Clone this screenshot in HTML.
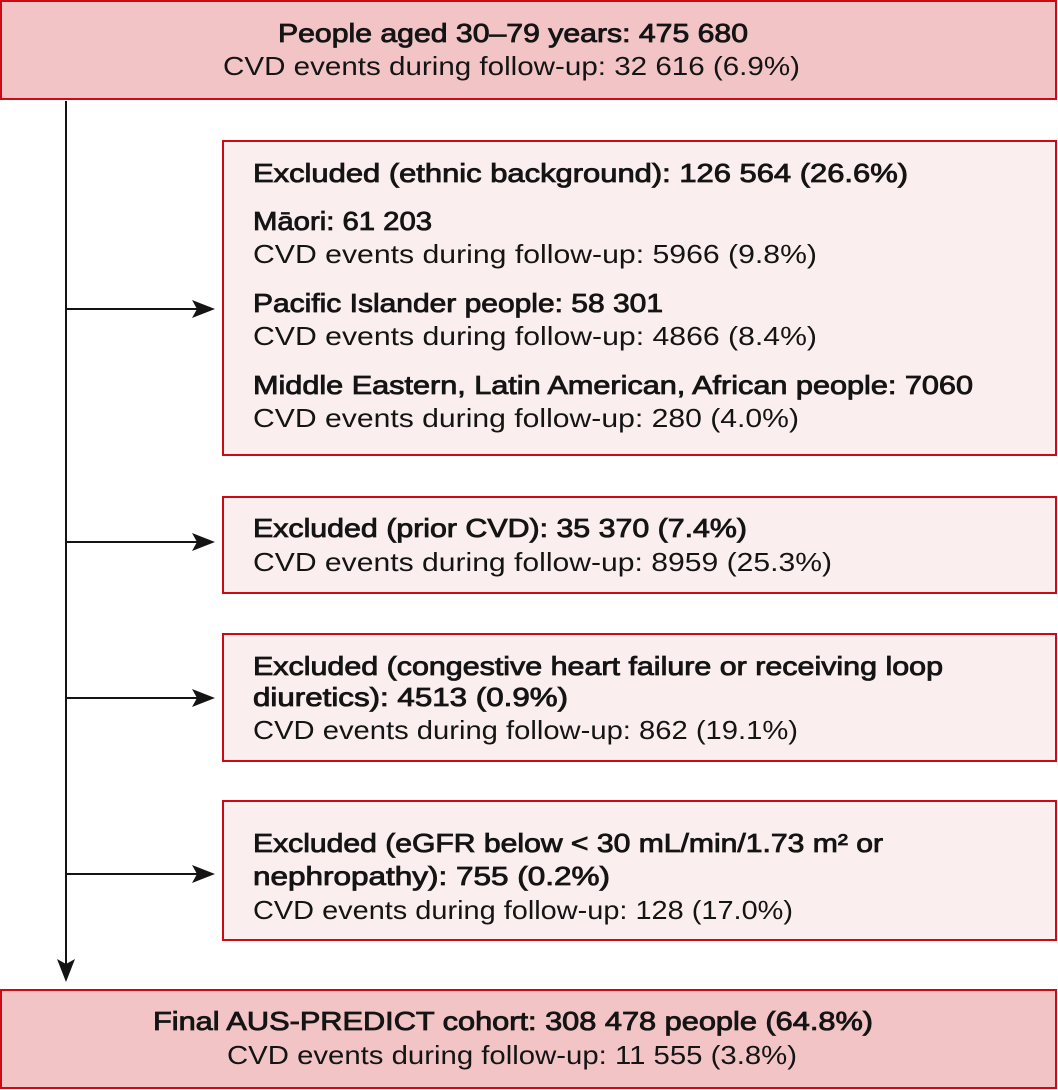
<!DOCTYPE html>
<html>
<head>
<meta charset="utf-8">
<style>
  html, body { margin:0; padding:0; background:#ffffff; }
  body { width:1058px; height:1090px; overflow:hidden; }
  svg { display:block; }
  text { font-family: "Liberation Sans", "DejaVu Sans", sans-serif; fill:#141414; font-size:26px; }
  .b { font-weight:normal; stroke:#141414; stroke-width:0.85px; }
</style>
</head>
<body>
<svg width="1058" height="1090" viewBox="0 0 1058 1090" xmlns="http://www.w3.org/2000/svg">
  <!-- Boxes -->
  <rect x="1" y="1" width="1055" height="98" fill="#f2c4c6" stroke="#cc0a14" stroke-width="2"/>
  <rect x="223" y="141" width="833" height="314" fill="#fbeeee" stroke="#cc0a14" stroke-width="2"/>
  <rect x="223" y="497" width="833" height="96" fill="#fbeeee" stroke="#cc0a14" stroke-width="2"/>
  <rect x="223" y="634" width="833" height="127" fill="#fbeeee" stroke="#cc0a14" stroke-width="2"/>
  <rect x="223" y="801" width="833" height="139" fill="#fbeeee" stroke="#cc0a14" stroke-width="2"/>
  <rect x="1" y="990" width="1055" height="98" fill="#f2c4c6" stroke="#cc0a14" stroke-width="2"/>

  <!-- Connectors -->
  <g stroke="#141414" stroke-width="2" fill="none">
    <line x1="66" y1="101" x2="66" y2="964"/>
    <line x1="66" y1="309" x2="198" y2="309"/>
    <line x1="66" y1="542" x2="198" y2="542"/>
    <line x1="66" y1="698" x2="198" y2="698"/>
    <line x1="66" y1="874" x2="198" y2="874"/>
  </g>
  <g fill="#141414">
    <path d="M66,982 L57,959 L66,964 L75,959 Z"/>
    <path d="M215,309 L192,300 L197,309 L192,318 Z"/>
    <path d="M215,542 L192,533 L197,542 L192,551 Z"/>
    <path d="M215,698 L192,689 L197,698 L192,707 Z"/>
    <path d="M215,874 L192,865 L197,874 L192,883 Z"/>
  </g>

  <!-- Top box -->
  <text class="b" x="278" y="42" textLength="470" lengthAdjust="spacingAndGlyphs">People aged 30–79 years: 475 680</text>
  <text x="223" y="75" textLength="577" lengthAdjust="spacingAndGlyphs">CVD events during follow-up: 32 616 (6.9%)</text>

  <!-- Ethnic box -->
  <text class="b" x="253" y="182" textLength="655" lengthAdjust="spacingAndGlyphs">Excluded (ethnic background): 126 564 (26.6%)</text>
  <text class="b" x="253" y="230" textLength="179" lengthAdjust="spacingAndGlyphs">Māori: 61 203</text>
  <text x="253" y="263" textLength="564" lengthAdjust="spacingAndGlyphs">CVD events during follow-up: 5966 (9.8%)</text>
  <text class="b" x="253" y="312" textLength="410" lengthAdjust="spacingAndGlyphs">Pacific Islander people: 58 301</text>
  <text x="253" y="345" textLength="564" lengthAdjust="spacingAndGlyphs">CVD events during follow-up: 4866 (8.4%)</text>
  <text class="b" x="253" y="394" textLength="720" lengthAdjust="spacingAndGlyphs">Middle Eastern, Latin American, African people: 7060</text>
  <text x="253" y="427" textLength="546" lengthAdjust="spacingAndGlyphs">CVD events during follow-up: 280 (4.0%)</text>

  <!-- Prior CVD box -->
  <text class="b" x="253" y="537" textLength="494" lengthAdjust="spacingAndGlyphs">Excluded (prior CVD): 35 370 (7.4%)</text>
  <text x="253" y="571" textLength="579" lengthAdjust="spacingAndGlyphs">CVD events during follow-up: 8959 (25.3%)</text>

  <!-- CHF box -->
  <text class="b" x="253" y="675" textLength="690" lengthAdjust="spacingAndGlyphs">Excluded (congestive heart failure or receiving loop</text>
  <text class="b" x="253" y="706" textLength="315" lengthAdjust="spacingAndGlyphs">diuretics): 4513 (0.9%)</text>
  <text x="253" y="739" textLength="545" lengthAdjust="spacingAndGlyphs">CVD events during follow-up: 862 (19.1%)</text>

  <!-- eGFR box -->
  <text class="b" x="253" y="852" textLength="630" lengthAdjust="spacingAndGlyphs">Excluded (eGFR below &lt; 30 mL/min/1.73 m² or</text>
  <text class="b" x="253" y="885" textLength="357" lengthAdjust="spacingAndGlyphs">nephropathy): 755 (0.2%)</text>
  <text x="253" y="919" textLength="540" lengthAdjust="spacingAndGlyphs">CVD events during follow-up: 128 (17.0%)</text>

  <!-- Bottom box -->
  <text class="b" x="153" y="1030" textLength="720" lengthAdjust="spacingAndGlyphs">Final AUS-PREDICT cohort: 308 478 people (64.8%)</text>
  <text x="227" y="1064" textLength="570" lengthAdjust="spacingAndGlyphs">CVD events during follow-up: 11 555 (3.8%)</text>
</svg>
</body>
</html>
